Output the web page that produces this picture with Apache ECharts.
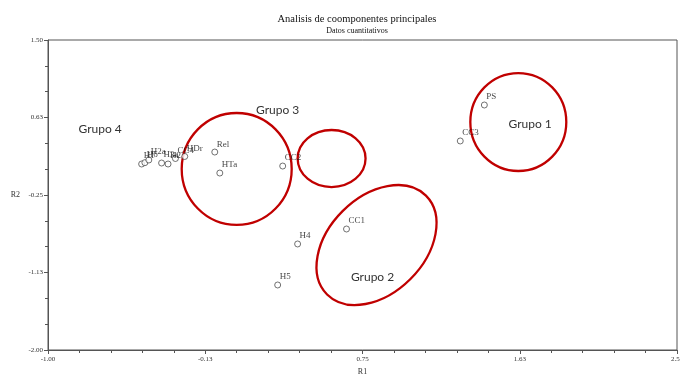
<!DOCTYPE html>
<html><head><meta charset="utf-8">
<script src="https://cdn.jsdelivr.net/npm/echarts@6/dist/echarts.min.js"></script>
<style>html,body{margin:0;padding:0;background:#fff}#c{width:680px;height:375px}</style>
</head><body><div id="c"></div>
<script>
var pointNames = ['PS','CC3','CC2','CC1','H4','H5','Rel','HTa','H1','H6','H2a','H3a','H2','CC4','HDr'];
var pointX = [1.428,1.294,0.306,0.661,0.389,0.278,-0.072,-0.044,-0.479,-0.461,-0.439,-0.368,-0.332,-0.291,-0.239];
var pointY = [0.766,0.360,0.077,-0.634,-0.803,-1.266,0.235,-0.002,0.100,0.115,0.145,0.111,0.100,0.162,0.185];
var xTicks = {min:-1.0, max:2.5, step:0.875};
var yTicks = {min:-2.0, max:1.5, step:0.875};
// group outlines in data units: centre x, centre y, half width, half height
var groupNames = ['Grupo 1','Grupo 2','Grupo 3','Grupo 4'];
var groupLabelX = [1.683, 0.806, 0.278, -0.71];
var groupLabelY = [0.552, -1.176, 0.71, 0.49];
var ellCx = [1.617, 0.828, 0.050, 0.578];
var ellCy = [0.574, -0.815, 0.044, 0.162];
var ellRx = [0.267, 0.389, 0.306, 0.189];
var ellRy = [0.553, 0.542, 0.632, 0.322];
var ellRot = [0, -45, 0, 0];

var serif = '"Liberation Serif","DejaVu Serif",serif';
var chart = echarts.init(document.getElementById('c'));
var data = pointNames.map(function(n,i){return {name:n, value:[pointX[i], pointY[i]]};});
chart.setOption({
  animation:false,
  title:{text:'Analisis de coomponentes principales', subtext:'Datos cuantitativos', left:352, textAlign:'center', top:9,
    itemGap:2,
    textStyle:{fontFamily:serif, fontSize:10.5, fontWeight:'normal', color:'#111'},
    subtextStyle:{fontFamily:serif, fontSize:8, color:'#111'}},
  grid:{left:48, right:3, top:40, bottom:25, show:true, borderColor:'#555', borderWidth:1, outerBoundsMode:'none', containLabel:false},
  xAxis:{type:'value', min:xTicks.min, max:xTicks.max, interval:xTicks.step,
    name:'R1', nameLocation:'middle', nameGap:17, nameTextStyle:{fontFamily:serif, fontSize:8, color:'#333'},
    axisLine:{onZero:false, lineStyle:{color:'#555'}}, axisTick:{show:true, length:4, lineStyle:{color:'#555'}},
    minorTick:{show:true, splitNumber:5, length:3, lineStyle:{color:'#555'}},
    splitLine:{show:false},
    axisLabel:{fontFamily:serif, fontSize:7, color:'#333', margin:6, formatter:function(v){return v.toFixed(2);}}},
  yAxis:{type:'value', min:yTicks.min, max:yTicks.max, interval:yTicks.step,
    name:'R2', nameLocation:'middle', nameGap:28, nameRotate:0, nameTextStyle:{fontFamily:serif, fontSize:8, color:'#333'},
    axisLine:{onZero:false, lineStyle:{color:'#555'}}, axisTick:{show:true, length:4, lineStyle:{color:'#555'}},
    minorTick:{show:true, splitNumber:3, length:3, lineStyle:{color:'#555'}},
    splitLine:{show:false},
    axisLabel:{fontFamily:serif, fontSize:7, color:'#333', margin:5, formatter:function(v){return v.toFixed(2);}}},
  series:[{type:'scatter', data:data, symbol:'circle', symbolSize:6,
    itemStyle:{color:'#fff', borderColor:'#222', borderWidth:0.8},
    label:{show:true, position:'top', align:'left', offset:[2,5], formatter:'{b}', fontFamily:serif, fontSize:9, color:'#111'}}]
});
var g = [];
for (var i=0;i<ellCx.length;i++){
  var c = chart.convertToPixel({gridIndex:0},[ellCx[i], ellCy[i]]);
  var e = chart.convertToPixel({gridIndex:0},[ellCx[i]+ellRx[i], ellCy[i]+ellRy[i]]);
  var rx = Math.abs(e[0]-c[0]), ry = Math.abs(e[1]-c[1]);
  g.push({type:'ellipse', x:c[0], y:c[1], rotation:-ellRot[i]*Math.PI/180, shape:{cx:0, cy:0, rx:rx, ry:ry},
    style:{fill:null, stroke:'#c00000', lineWidth:2.3}, z:1});
}
for (var j=0;j<groupNames.length;j++){
  var p = chart.convertToPixel({gridIndex:0},[groupLabelX[j], groupLabelY[j]]);
  g.push({type:'text', x:p[0], y:p[1], style:{text:groupNames[j], fontFamily:'Lato, "Open Sans", sans-serif', fontSize:12,
    fill:'#333', align:'center', verticalAlign:'middle'}, z:5});
}
chart.setOption({graphic:g});
</script></body></html>
